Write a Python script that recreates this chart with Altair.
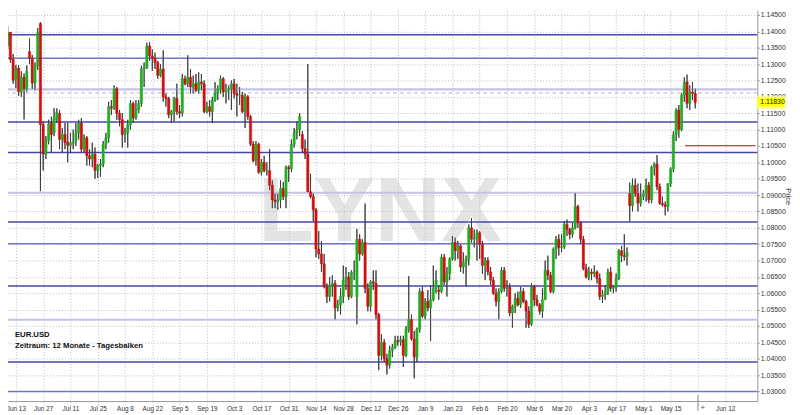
import altair as alt
import pandas as pd

# ---- daily EUR/USD candles: (open, high, low, close), first row = Jun 8 2016 ----
jun_2016 = [
    (1.1357, 1.1416, 1.1346, 1.1397), (1.1397, 1.1398, 1.1304, 1.1314), (1.1314, 1.1331, 1.1240, 1.1251),
    (1.1251, 1.1297, 1.1227, 1.1288), (1.1288, 1.1297, 1.1203, 1.1216), (1.1216, 1.1278, 1.1200, 1.1260),
    (1.1260, 1.1271, 1.1131, 1.1224), (1.1224, 1.1296, 1.1216, 1.1278), (1.1338, 1.1378, 1.1300, 1.1318),
    (1.1318, 1.1328, 1.1224, 1.1242), (1.1242, 1.1305, 1.1220, 1.1294), (1.1294, 1.1410, 1.1282, 1.1395),
    (1.1424, 1.1428, 1.0912, 1.1115), (1.1115, 1.1125, 1.0975, 1.1025), (1.1025, 1.1080, 1.1010, 1.1066),
    (1.1066, 1.1130, 1.1055, 1.1117), (1.1120, 1.1140, 1.1030, 1.1085),
]
jul_2016 = [
    (1.1090, 1.1165, 1.1080, 1.1134), (1.1130, 1.1165, 1.1120, 1.1152), (1.1150, 1.1160, 1.1040, 1.1070),
    (1.1070, 1.1105, 1.1030, 1.1085), (1.1085, 1.1120, 1.1040, 1.1060), (1.1062, 1.1120, 1.1000, 1.1052),
    (1.1052, 1.1090, 1.1030, 1.1060), (1.1058, 1.1100, 1.1040, 1.1062), (1.1065, 1.1120, 1.1050, 1.1090),
    (1.1090, 1.1130, 1.1070, 1.1118), (1.1120, 1.1135, 1.1030, 1.1040), (1.1040, 1.1085, 1.1030, 1.1075),
    (1.1075, 1.1080, 1.0990, 1.1020), (1.1020, 1.1040, 1.0990, 1.1010), (1.1010, 1.1060, 1.0985, 1.1025),
    (1.1025, 1.1045, 1.0950, 1.0975), (1.0975, 1.0995, 1.0952, 1.0990), (1.0990, 1.1010, 1.0955, 1.0995),
    (1.0995, 1.1065, 1.0985, 1.1055), (1.1055, 1.1090, 1.1040, 1.1075), (1.1075, 1.1185, 1.1060, 1.1170),
]
aug_2016 = [
    (1.1170, 1.1190, 1.1145, 1.1165), (1.1165, 1.1235, 1.1160, 1.1225), (1.1225, 1.1230, 1.1130, 1.1150),
    (1.1150, 1.1160, 1.1110, 1.1130), (1.1130, 1.1150, 1.1045, 1.1085), (1.1085, 1.1105, 1.1060, 1.1090),
    (1.1090, 1.1130, 1.1045, 1.1115), (1.1115, 1.1190, 1.1100, 1.1180), (1.1180, 1.1185, 1.1120, 1.1135),
    (1.1135, 1.1190, 1.1130, 1.1160), (1.1160, 1.1190, 1.1150, 1.1180), (1.1180, 1.1295, 1.1170, 1.1285),
    (1.1285, 1.1305, 1.1230, 1.1290), (1.1290, 1.1365, 1.1285, 1.1355), (1.1355, 1.1367, 1.1310, 1.1325),
    (1.1325, 1.1345, 1.1280, 1.1318), (1.1318, 1.1335, 1.1285, 1.1305), (1.1305, 1.1310, 1.1255, 1.1265),
    (1.1265, 1.1300, 1.1260, 1.1285), (1.1285, 1.1342, 1.1185, 1.1200), (1.1200, 1.1210, 1.1170, 1.1195),
    (1.1195, 1.1200, 1.1135, 1.1145), (1.1145, 1.1160, 1.1120, 1.1155),
]
sep_2016 = [
    (1.1155, 1.1200, 1.1125, 1.1195), (1.1195, 1.1240, 1.1145, 1.1155), (1.1155, 1.1175, 1.1135, 1.1150),
    (1.1150, 1.1270, 1.1140, 1.1255), (1.1255, 1.1265, 1.1235, 1.1240), (1.1240, 1.1327, 1.1230, 1.1260),
    (1.1260, 1.1285, 1.1210, 1.1230), (1.1230, 1.1265, 1.1210, 1.1240), (1.1240, 1.1270, 1.1215, 1.1220),
    (1.1220, 1.1275, 1.1210, 1.1245), (1.1245, 1.1270, 1.1220, 1.1240), (1.1240, 1.1250, 1.1150, 1.1155),
    (1.1155, 1.1185, 1.1150, 1.1170), (1.1170, 1.1190, 1.1140, 1.1155), (1.1155, 1.1200, 1.1120, 1.1190),
    (1.1190, 1.1245, 1.1185, 1.1210), (1.1210, 1.1235, 1.1190, 1.1225), (1.1225, 1.1265, 1.1210, 1.1255),
    (1.1255, 1.1260, 1.1200, 1.1215), (1.1215, 1.1240, 1.1180, 1.1220), (1.1220, 1.1235, 1.1190, 1.1225),
    (1.1225, 1.1250, 1.1160, 1.1240),
]
oct_2016 = [
    (1.1240, 1.1255, 1.1195, 1.1210), (1.1210, 1.1240, 1.1140, 1.1205), (1.1205, 1.1230, 1.1175, 1.1205),
    (1.1205, 1.1215, 1.1150, 1.1155), (1.1155, 1.1210, 1.1105, 1.1200), (1.1200, 1.1205, 1.1130, 1.1140),
    (1.1140, 1.1145, 1.1050, 1.1055), (1.1055, 1.1065, 1.1000, 1.1005), (1.1005, 1.1065, 1.0990, 1.1055),
    (1.1055, 1.1060, 1.0965, 1.0970), (1.0970, 1.1010, 1.0960, 1.1000), (1.1000, 1.1020, 1.0970, 1.0975),
    (1.0975, 1.1000, 1.0960, 1.0975), (1.0975, 1.1040, 1.0915, 1.0930), (1.0930, 1.0945, 1.0860, 1.0885),
    (1.0885, 1.0905, 1.0860, 1.0880), (1.0880, 1.0905, 1.0855, 1.0885), (1.0885, 1.0945, 1.0860, 1.0920),
    (1.0920, 1.0940, 1.0885, 1.0895), (1.0895, 1.0990, 1.0860, 1.0985), (1.0985, 1.0990, 1.0940, 1.0980),
]
nov_2016 = [
    (1.0980, 1.1070, 1.0970, 1.1055), (1.1055, 1.1105, 1.1045, 1.1090), (1.1090, 1.1125, 1.1070, 1.1100),
    (1.1100, 1.1150, 1.1080, 1.1140), (1.1085, 1.1095, 1.1030, 1.1042), (1.1042, 1.1070, 1.1010, 1.1025),
    (1.1025, 1.1300, 1.0910, 1.0910), (1.0910, 1.0965, 1.0890, 1.0895), (1.0895, 1.0905, 1.0820, 1.0855),
    (1.0855, 1.0860, 1.0710, 1.0735), (1.0735, 1.0790, 1.0705, 1.0720), (1.0720, 1.0760, 1.0665, 1.0690),
    (1.0690, 1.0720, 1.0615, 1.0620), (1.0620, 1.0630, 1.0570, 1.0590), (1.0590, 1.0650, 1.0575, 1.0625),
    (1.0625, 1.0655, 1.0590, 1.0630), (1.0630, 1.0640, 1.0520, 1.0555), (1.0555, 1.0580, 1.0545, 1.0565),
    (1.0565, 1.0615, 1.0535, 1.0590), (1.0590, 1.0685, 1.0570, 1.0640), (1.0640, 1.0680, 1.0610, 1.0650),
    (1.0650, 1.0665, 1.0580, 1.0590),
]
dec_2016 = [
    (1.0590, 1.0670, 1.0585, 1.0665), (1.0665, 1.0700, 1.0640, 1.0665), (1.0590, 1.0796, 1.0505, 1.0765),
    (1.0765, 1.0780, 1.0700, 1.0720), (1.0720, 1.0765, 1.0715, 1.0755), (1.0755, 1.0874, 1.0600, 1.0615),
    (1.0615, 1.0630, 1.0545, 1.0560), (1.0560, 1.0640, 1.0545, 1.0635), (1.0635, 1.0670, 1.0610, 1.0630),
    (1.0630, 1.0670, 1.0520, 1.0535), (1.0535, 1.0540, 1.0365, 1.0410), (1.0410, 1.0475, 1.0395, 1.0450),
    (1.0450, 1.0460, 1.0390, 1.0400), (1.0400, 1.0415, 1.0352, 1.0380), (1.0380, 1.0440, 1.0370, 1.0425),
    (1.0425, 1.0445, 1.0405, 1.0435), (1.0435, 1.0470, 1.0430, 1.0455), (1.0455, 1.0470, 1.0440, 1.0452),
    (1.0452, 1.0470, 1.0440, 1.0458), (1.0458, 1.0470, 1.0375, 1.0410), (1.0410, 1.0500, 1.0405, 1.0490),
    (1.0490, 1.0652, 1.0480, 1.0520),
]
jan_2017 = [
    (1.0520, 1.0535, 1.0455, 1.0460), (1.0460, 1.0485, 1.0340, 1.0405), (1.0405, 1.0495, 1.0390, 1.0490),
    (1.0490, 1.0615, 1.0480, 1.0605), (1.0605, 1.0620, 1.0525, 1.0530), (1.0530, 1.0585, 1.0520, 1.0575),
    (1.0575, 1.0610, 1.0545, 1.0555), (1.0555, 1.0625, 1.0454, 1.0580), (1.0580, 1.0685, 1.0575, 1.0615),
    (1.0615, 1.0670, 1.0600, 1.0640), (1.0610, 1.0625, 1.0580, 1.0605), (1.0605, 1.0720, 1.0600, 1.0710),
    (1.0710, 1.0720, 1.0625, 1.0635), (1.0635, 1.0680, 1.0590, 1.0660), (1.0660, 1.0710, 1.0640, 1.0705),
    (1.0705, 1.0775, 1.0700, 1.0755), (1.0755, 1.0770, 1.0700, 1.0730), (1.0730, 1.0760, 1.0705, 1.0745),
    (1.0745, 1.0750, 1.0665, 1.0680), (1.0680, 1.0725, 1.0660, 1.0695), (1.0695, 1.0715, 1.0620, 1.0705),
    (1.0705, 1.0810, 1.0685, 1.0800),
]
feb_2017 = [
    (1.0800, 1.0830, 1.0755, 1.0765), (1.0765, 1.0795, 1.0740, 1.0768), (1.0768, 1.0795, 1.0700, 1.0785),
    (1.0785, 1.0790, 1.0705, 1.0750), (1.0750, 1.0760, 1.0660, 1.0685), (1.0685, 1.0710, 1.0640, 1.0700),
    (1.0700, 1.0710, 1.0655, 1.0665), (1.0665, 1.0680, 1.0625, 1.0640), (1.0640, 1.0650, 1.0595, 1.0600),
    (1.0600, 1.0615, 1.0560, 1.0575), (1.0575, 1.0615, 1.0520, 1.0605), (1.0605, 1.0680, 1.0600, 1.0670),
    (1.0670, 1.0680, 1.0605, 1.0615), (1.0615, 1.0640, 1.0590, 1.0618), (1.0618, 1.0630, 1.0530, 1.0540),
    (1.0540, 1.0565, 1.0495, 1.0560), (1.0560, 1.0600, 1.0540, 1.0585), (1.0585, 1.0605, 1.0560, 1.0565),
    (1.0565, 1.0620, 1.0555, 1.0605), (1.0605, 1.0615, 1.0570, 1.0575),
]
mar_2017 = [
    (1.0575, 1.0580, 1.0495, 1.0545), (1.0545, 1.0560, 1.0494, 1.0505), (1.0505, 1.0630, 1.0500, 1.0620),
    (1.0620, 1.0625, 1.0560, 1.0580), (1.0580, 1.0595, 1.0560, 1.0565), (1.0565, 1.0570, 1.0535, 1.0545),
    (1.0545, 1.0615, 1.0525, 1.0580), (1.0580, 1.0700, 1.0580, 1.0670), (1.0670, 1.0715, 1.0640, 1.0655),
    (1.0655, 1.0665, 1.0600, 1.0605), (1.0605, 1.0740, 1.0600, 1.0735), (1.0735, 1.0775, 1.0705, 1.0765),
    (1.0765, 1.0780, 1.0715, 1.0740), (1.0740, 1.0780, 1.0725, 1.0742), (1.0742, 1.0820, 1.0735, 1.0810),
    (1.0810, 1.0825, 1.0775, 1.0795), (1.0795, 1.0800, 1.0765, 1.0780), (1.0780, 1.0815, 1.0770, 1.0800),
    (1.0800, 1.0906, 1.0795, 1.0865), (1.0865, 1.0870, 1.0800, 1.0815), (1.0815, 1.0820, 1.0750, 1.0765),
    (1.0765, 1.0775, 1.0670, 1.0675), (1.0675, 1.0690, 1.0645, 1.0650),
]
apr_2017 = [
    (1.0650, 1.0680, 1.0640, 1.0665), (1.0665, 1.0675, 1.0640, 1.0660), (1.0660, 1.0685, 1.0650, 1.0665),
    (1.0665, 1.0670, 1.0630, 1.0645), (1.0645, 1.0660, 1.0580, 1.0590), (1.0590, 1.0610, 1.0570, 1.0595),
    (1.0595, 1.0625, 1.0580, 1.0605), (1.0605, 1.0675, 1.0595, 1.0665), (1.0665, 1.0680, 1.0605, 1.0615),
    (1.0615, 1.0625, 1.0600, 1.0618), (1.0618, 1.0660, 1.0605, 1.0645), (1.0645, 1.0735, 1.0640, 1.0730),
    (1.0730, 1.0745, 1.0695, 1.0715), (1.0715, 1.0780, 1.0700, 1.0712), (1.0712, 1.0740, 1.0685, 1.0725),
    (1.0905, 1.0938, 1.0820, 1.0868), (1.0868, 1.0950, 1.0850, 1.0930), (1.0930, 1.0950, 1.0895, 1.0905),
    (1.0905, 1.0935, 1.0850, 1.0875), (1.0875, 1.0935, 1.0865, 1.0895),
]
may_2017 = [
    (1.0895, 1.0915, 1.0885, 1.0905), (1.0905, 1.0950, 1.0880, 1.0930), (1.0930, 1.0940, 1.0875, 1.0885),
    (1.0885, 1.0990, 1.0875, 1.0985), (1.0985, 1.1000, 1.0960, 1.0995), (1.0995, 1.1022, 1.0915, 1.0925),
    (1.0925, 1.0935, 1.0870, 1.0875), (1.0875, 1.0895, 1.0865, 1.0870), (1.0870, 1.0880, 1.0838, 1.0865),
    (1.0865, 1.0935, 1.0850, 1.0935), (1.0935, 1.0985, 1.0925, 1.0980), (1.0980, 1.1095, 1.0970, 1.1085),
    (1.1085, 1.1165, 1.1065, 1.1160), (1.1160, 1.1175, 1.1075, 1.1100), (1.1100, 1.1212, 1.1095, 1.1205),
    (1.1205, 1.1260, 1.1185, 1.1245), (1.1245, 1.1268, 1.1165, 1.1180), (1.1180, 1.1235, 1.1160, 1.1215),
    (1.1215, 1.1245, 1.1190, 1.1210), (1.1210, 1.1225, 1.1165, 1.1183),
]
first_bar = -3          # Jun 8 2016, three trading days before the "Jun 13" tick

# ---- axis tick labels (one every 10 trading days) ----
date_labels = ["Jun 13", "Jun 27", "Jul 11", "Jul 25", "Aug 8", "Aug 22", "Sep 5", "Sep 19",
               "Oct 3", "Oct 17", "Oct 31", "Nov 14", "Nov 28", "Dec 12", "Dec 26", "Jan 9",
               "Jan 23", "Feb 6", "Feb 20", "Mar 6", "Mar 20", "Apr 3", "Apr 17", "May 1",
               "May 15", "", "Jun 12"]
price_ticks = [1.030, 1.035, 1.040, 1.045, 1.050, 1.055, 1.060, 1.065, 1.070, 1.075, 1.080, 1.085,
               1.090, 1.095, 1.100, 1.105, 1.110, 1.115, 1.120, 1.125, 1.130, 1.135, 1.140, 1.145]

# ---- horizontal levels ----
strong_levels = [1.1390, 1.1123, 1.1030, 1.0818, 1.0622, 1.0390]
medium_levels = [1.1318, 1.0751, 1.0300]
light_levels = [1.1223, 1.0907, 1.0519]
ask_level = [1.1212]
target_level = [1.1051]
target_start = [245.3]
last_price = [1.1183]
last_bar = [250]
watermark_letters = ["L", "Y", "N", "X"]

# ---- build table ----
rows = [r for m in (jun_2016, jul_2016, aug_2016, sep_2016, oct_2016, nov_2016, dec_2016,
                    jan_2017, feb_2017, mar_2017, apr_2017, may_2017) for r in m]
df = pd.DataFrame(rows, columns=["o", "h", "l", "c"])
df["i"] = list(range(first_bar, first_bar + len(df)))
df["dir"] = ["up" if c >= o else "down" for o, c in zip(df["o"], df["c"])]

W, H = 757, 395
FONT = "Liberation Sans"
GREEN, RED = "#1fae1f", "#cf1010"

tick_pos = [10 * k for k in range(len(date_labels))]
labels_js = "[" + ",".join("'" + s + "'" for s in date_labels) + "]"

xscale = alt.Scale(domain=[-1.074, 269.96], nice=False, zero=False)
yscale = alt.Scale(domain=[1.027068, 1.146512], nice=False, zero=False)

x_axis = alt.Axis(values=tick_pos, labelExpr=labels_js + "[round(datum.value/10)]",
                  grid=True, gridDash=[1, 2], gridColor="#bdbdbd", gridWidth=1,
                  domainColor="#9a9a9a", tickColor="#bdbdbd", tickDash=[1, 2], tickSize=4,
                  labelFont=FONT, labelFontSize=6.5, labelColor="#333333", labelPadding=1,
                  labelFlush=False, labelOverlap=False, title=None)
y_axis = alt.Axis(orient="right", values=price_ticks, format=".5f",
                  grid=True, gridDash=[1, 2], gridColor="#bdbdbd", gridWidth=1,
                  domainColor="#9a9a9a", tickColor="#9a9a9a", tickSize=2,
                  labelFont=FONT, labelFontSize=7, labelColor="#333333", labelPadding=1,
                  labelFlush=False, labelOverlap=False,
                  title="Price", titleFont=FONT, titleFontSize=7.5, titleFontWeight="normal",
                  titleColor="#333333", titleAngle=90, titleX=30, titleY=188,
                  titleAlign="center", titleBaseline="middle")

X = lambda f: alt.X(f, scale=xscale, axis=x_axis)
Y = lambda f: alt.Y(f, scale=yscale, axis=y_axis)

# watermark (behind everything, semi transparent so the grid shows through)
wm = pd.DataFrame({"t": watermark_letters, "px": [281, 340, 404, 468]})
watermark = alt.Chart(wm).mark_text(fontSize=92, font=FONT, fontWeight="bold", color="#c4c4c4",
                                     opacity=0.45, align="center", baseline="alphabetic").encode(
    x=alt.X("px:Q", scale=None), y=alt.value(233), text="t:N")

def level_layer(vals, color, width, dash=None):
    kw = dict(color=color, strokeWidth=width)
    if dash:
        kw["strokeDash"] = dash
    return alt.Chart(pd.DataFrame({"p": vals})).mark_rule(**kw).encode(y=Y("p:Q"))

light = level_layer(light_levels, "#c3c3ea", 2.2)
medium = level_layer(medium_levels, "#7373c4", 1.5)
strong = level_layer(strong_levels, "#4646aa", 1.5)
ask = level_layer(ask_level, "#b5b5b5", 1, [4, 3])

target = alt.Chart(pd.DataFrame({"x0": target_start, "p": target_level})).mark_rule(
    color="#d23a4a", strokeWidth=1.5).encode(x=X("x0:Q"), x2=alt.value(W - 2), y=Y("p:Q"))

wicks = alt.Chart(df).mark_rule(color="#3a3a3a", strokeWidth=0.9, clip=True).encode(
    x=X("i:Q"), y=Y("l:Q"), y2="h:Q")

color_scale = alt.Scale(domain=["up", "down"], range=[GREEN, RED])
bodies = alt.Chart(df).mark_bar(size=2.3, clip=True, strokeWidth=0.5).encode(
    x=X("i:Q"), y=Y("o:Q"), y2="c:Q",
    color=alt.Color("dir:N", scale=color_scale, legend=None),
    stroke=alt.Stroke("dir:N", scale=color_scale, legend=None))

# info text lower-left
info = alt.Chart(pd.DataFrame({"t": ["EUR.USD", "Zeitraum: 12 Monate - Tagesbalken"],
                               "yy": [330.5, 341.5]})).mark_text(
    font=FONT, fontSize=7.8, fontWeight="bold", color="#111111", align="left",
    baseline="alphabetic").encode(x=alt.value(7), y=alt.Y("yy:Q", scale=None), text="t:N")

# current price tag on the right axis
tag_df = pd.DataFrame({"p": last_price, "t": ["%.5f" % last_price[0]]})
tag_glow = alt.Chart(tag_df).mark_point(shape="M-1,-0.45L1,-0.45L1,0.45L-1,0.45Z", size=900,
                                        filled=True, color="#ffff80", opacity=0.8, clip=False).encode(
    x=alt.value(W + 14), y=Y("p:Q"))
tag_box = alt.Chart(tag_df).mark_point(shape="M-1,-0.32L1,-0.32L1,0.32L-1,0.32Z", size=676,
                                       filled=True, color="#ffff00", opacity=1, clip=False).encode(
    x=alt.value(W + 14), y=Y("p:Q"))
tag_text = alt.Chart(tag_df).mark_text(font=FONT, fontSize=7, color="#222222", align="left",
                                       baseline="middle", clip=False).encode(
    x=alt.value(W + 3), y=Y("p:Q"), text="t:N")

# marker of the latest bar on the time axis
lb = pd.DataFrame({"i": last_bar, "t": ["+"]})
last_tick = alt.Chart(lb).mark_rule(color="#8a8a8a", strokeWidth=1).encode(
    x=X("i:Q"), y=alt.value(H - 6), y2=alt.value(H + 10))
plus = alt.Chart(lb).mark_text(font=FONT, fontSize=8, color="#555555", dx=5,
                               baseline="middle").encode(
    x=X("i:Q"), y=alt.value(H + 7), text="t:N")

chart = alt.layer(
    wicks, watermark, light, medium, strong, ask, target, wicks,
    bodies, info, tag_glow, tag_box, tag_text, last_tick, plus
).properties(
    width=W, height=H,
    autosize=alt.AutoSizeParams(type="none"),
    padding={"left": 0, "top": 0, "right": 35, "bottom": 12},
    background="white"
).configure_view(stroke=None)

chart.save("out.html", embed_options={"renderer": "svg", "actions": False})
